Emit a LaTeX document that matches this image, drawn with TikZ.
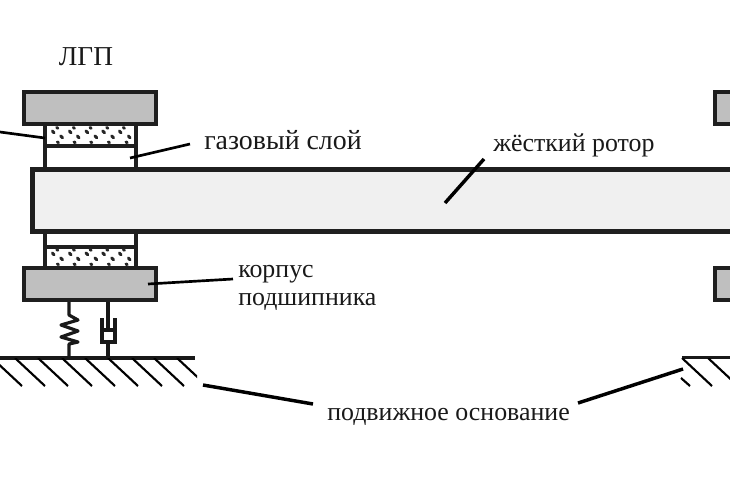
\documentclass[tikz,border=0pt]{standalone}
\usepackage{fontspec}
\setmainfont{Liberation Serif}
\begin{document}
\begin{tikzpicture}[x=0.75pt,y=-0.75pt,
  block/.style={draw=black!88,fill=black!25,line width=3.4pt,anchor=north west,minimum height=24pt,inner sep=0pt,outer sep=0pt},
  rotorbox/.style={draw=black!88,fill=black!6,line width=3.4pt,minimum width=534.75pt,minimum height=46.5pt,inner sep=0pt,outer sep=0pt},
  wall/.style={draw=black!88,line width=3pt},
  rod/.style={draw=black!90,line width=2.4pt},
  ground/.style={draw=black!90,line width=2.4pt},
  leader/.style={draw=black,line width=2pt},
  heavy leader/.style={draw=black,line width=2.6pt},
  hatch/.style={draw=black,line width=1.6pt},
  label/.style={inner sep=0pt,font=\fontsize{19.4pt}{21pt}\selectfont,text=black!90},
  grain/.style={draw=black!85,line width=2.2pt,line cap=round}]
\useasboundingbox (0,0) rectangle (730,486);
\fill[white] (0,0) rectangle (730,486);
% cell walls
\draw[wall] (45,126) -- (45,169) (136,126) -- (136,169) (45,146) -- (136,146);
\draw[wall] (45,232) -- (45,266) (136,232) -- (136,266) (45,247) -- (136,247);
% porous inserts
\foreach \dy in {0,122}{
  \foreach \xa in {56.7,73.3,90,106.7,123.3}{
    \draw[grain] (\xa,127.5+\dy) -- ++(1.2,0.8);
  }
  \foreach \xa in {52.3,69.3,86,102.7,119.3}{
    \draw[grain] (\xa,131+\dy) -- ++(1.8,1.8);
  }
  \foreach \xa in {60.7,77.3,95,111.7,128.3}{
    \draw[grain] (\xa,136+\dy) -- ++(1.8,1.8);
  }
  \foreach \xa in {57.3,74,90.7,108.3,126}{
    \draw[grain] (\xa,142+\dy) -- ++(1.2,0.6);
  }
}
% blocks and rotor
\node[rotorbox] (rotor) at (389,200.5) {};
\node[block,minimum width=99pt] (topL) at (24,92) {};
\node[block,minimum width=99pt] (botL) at (24,268) {};
\node[block,minimum width=30pt] (topR) at (715,92) {};
\node[block,minimum width=30pt] (botR) at (715,268) {};
% spring
\draw[rod,line join=round] (69,302) -- (69,315) -- (78,320) -- (61,325) -- (78,331) -- (61,337) -- (78,342) -- (69,344) -- (69,358);
% damper
\draw[rod] (108,302) -- (108,330) (101,330) -- (116,330);
\draw[rod] (102,318) -- (102,342) -- (115,342) -- (115,318);
\draw[rod] (108,342) -- (108,358);
% ground left
\draw[ground] (0,358) -- (195,358);
\begin{scope}
\clip (0,358) rectangle (197,386);
\foreach \xa in {-8,15,38,62,85,108,132,154,177}{
  \draw[hatch] (\xa,358) -- ++(30,28);
}
\end{scope}
% ground right
\draw[ground] (682,357.5) -- (730,357.5);
\begin{scope}
\clip (680,358) rectangle (730,386);
\foreach \xa in {682,708,734}{
  \draw[hatch] (\xa,358) -- ++(30,28);
}
\draw[hatch] (681,378) -- (690,386);
\end{scope}
% labels
\node[label,font=\fontsize{20.5pt}{22pt}\selectfont] (lgp) at (86,57) {ЛГП};
\node[label,anchor=west,font=\fontsize{20.9pt}{22pt}\selectfont] (gas) at (204,140) {газовый слой};
\node[label,anchor=west] (rot) at (493,145) {жёсткий ротор};
\node[label,anchor=west,align=left] (korp) at (238,288) {корпус\\[0pt]подшипника};
\node[label] (base) at (448.5,417) {подвижное основание};
% leaders
\coordinate (a0) at (0,132); \coordinate (a1) at (45,138);
\coordinate (b0) at (130,158); \coordinate (b1) at (190,144);
\coordinate (c0) at (445,203); \coordinate (c1) at (484,159);
\coordinate (d0) at (148,284); \coordinate (d1) at (233,279);
\coordinate (e0) at (203,385); \coordinate (e1) at (313,404);
\coordinate (f0) at (578,403); \coordinate (f1) at (683,369);
\draw[leader] (a0) -- (a1);
\draw[leader] (b0) -- (b1);
\draw[heavy leader] (c0) -- (c1);
\draw[leader] (d0) -- (d1);
\draw[heavy leader] (e0) -- (e1);
\draw[heavy leader] (f0) -- (f1);
\end{tikzpicture}
\end{document}
